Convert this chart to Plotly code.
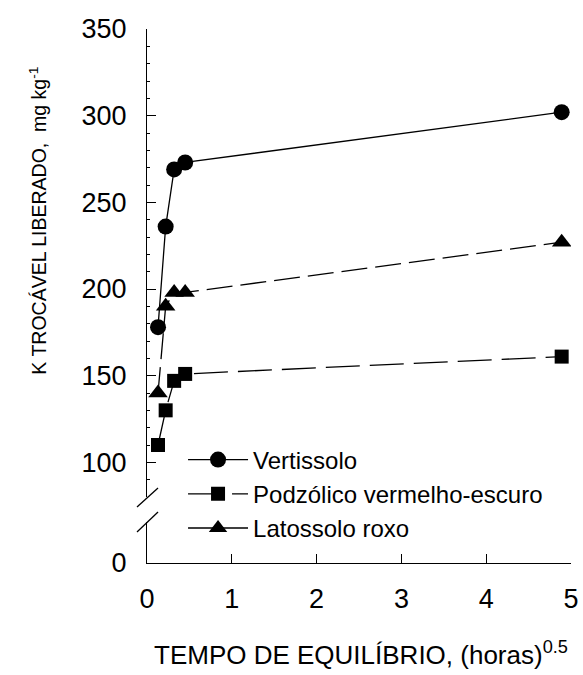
import plotly.graph_objects as go

# Data (x = tempo^0.5, y = K trocável liberado, mg/kg)
x_vals = [0.13, 0.22, 0.32, 0.45, 4.89]
vertissolo = [178, 236, 269, 273, 302]
podzolico = [110, 130, 147, 151, 161]
latossolo = [140, 190, 198, 198, 227]
names = ["Vertissolo", "Podzólico vermelho-escuro", "Latossolo roxo"]
x_ticks = [0, 1, 2, 3, 4, 5]
y_ticks = [100, 150, 200, 250, 300, 350]

FONT = "Liberation Sans, Arial, sans-serif"

fig = go.Figure()
fig.add_trace(go.Scatter(x=x_vals, y=vertissolo, name=names[0], mode="lines+markers",
                         line=dict(color="black", width=1.3),
                         marker=dict(symbol="circle", size=16, color="black")))
fig.add_trace(go.Scatter(x=x_vals, y=podzolico, name=names[1], mode="lines+markers",
                         line=dict(color="black", width=1.3, dash="34px,10px"),
                         marker=dict(symbol="square", size=14, color="black")))
fig.add_trace(go.Scatter(x=x_vals, y=latossolo, name=names[2], mode="lines+markers",
                         line=dict(color="black", width=1.3, dash="26px,8px"),
                         marker=dict(symbol="triangle-up", size=17, color="black")))

# invisible trace to create the lower (0) axis segment
fig.add_trace(go.Scatter(x=[None], y=[None], yaxis="y2", showlegend=False, hoverinfo="skip"))

axis_common = dict(showline=True, linecolor="black", linewidth=1.3, ticks="inside",
                   tickcolor="black", ticklen=9, tickwidth=1.3, showgrid=False, zeroline=False,
                   automargin=False,
                   tickfont=dict(family=FONT, size=27, color="black"))

fig.update_layout(
    width=583, height=675,
    margin=dict(l=147, r=12, t=29, b=112, autoexpand=False),
    paper_bgcolor="white", plot_bgcolor="white",
    font=dict(family=FONT, color="black"),
    xaxis=dict(range=[0, 5], tickvals=x_ticks, anchor="y2", ticklabelstandoff=11, **axis_common),
    yaxis=dict(domain=[0.1236, 1], range=[80, 350], tickvals=y_ticks, anchor="x",
               ticklabelstandoff=14,
               minor=dict(ticks="inside", ticklen=3, tickcolor="black", dtick=10),
               **axis_common),
    yaxis2=dict(domain=[0, 0.0768], range=[0, 23.7], tickvals=[0], anchor="x",
                ticklabelstandoff=14, **axis_common),
    legend=dict(x=0.085, y=0.235, xanchor="left", yanchor="top", bgcolor="rgba(0,0,0,0)",
                font=dict(family=FONT, size=24, color="black"), itemwidth=60,
                tracegroupgap=0),
    showlegend=True,
)

# axis titles
fig.add_annotation(text="TEMPO DE EQUILÍBRIO, (horas)<sup>0.5</sup>", xref="paper", yref="paper",
                   x=0.505, y=-0.17, xanchor="center", yanchor="middle", showarrow=False,
                   font=dict(family=FONT, size=26, color="black"))
fig.add_annotation(text="K TROCÁVEL LIBERADO,  mg kg<sup>-1</sup>", xref="paper", yref="paper",
                   x=-0.256, y=0.642, xanchor="center", yanchor="middle", textangle=-90,
                   showarrow=False, font=dict(family=FONT, size=19.5, color="black"))

# axis break marks
for y0, y1 in [(0.1049, 0.1404), (0.058, 0.0955)]:
    fig.add_shape(type="line", xref="paper", yref="paper", x0=-0.0236, x1=0.026, y0=y0, y1=y1,
                  line=dict(color="black", width=1.3))

fig.write_html("out.html")
